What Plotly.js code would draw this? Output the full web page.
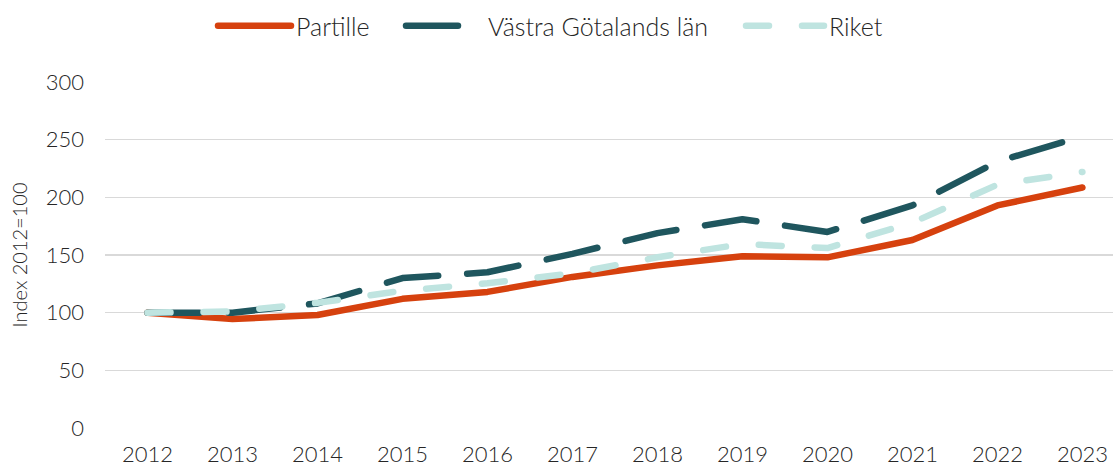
<!DOCTYPE html>
<html>
<head>
<meta charset="utf-8">
<script src="https://cdn.plot.ly/plotly-3.0.1.min.js"></script>
<style>
html, body { margin: 0; padding: 0; background: #fff; }
#chart { width: 1113px; height: 468px; }
.js-line { stroke-linecap: round; stroke-linejoin: round; }
</style>
</head>
<body>
<div id="chart"></div>
<script>
const years = ["2012","2013","2014","2015","2016","2017","2018","2019","2020","2021","2022","2023"];
const partille = [100, 94.5, 98, 112, 118, 131, 141, 149, 148, 163, 193, 208.5];
const vastraGotaland = [100, 100, 108, 130, 135, 151, 169, 181, 170, 193, 231, 253];
const riket = [100, 101, 108.5, 119, 125.5, 134, 148, 159.5, 156, 178, 211, 222];
const seriesNames = ["Partille", "Västra Götalands län", "Riket"];
const yTicks = [0, 50, 100, 150, 200, 250, 300];

const FONT = "Lato, 'Open Sans', sans-serif";
const TXT = "#262626";
const xIdx = years.map((_, i) => i);

const traces = [
  { x: xIdx, y: partille, name: seriesNames[0], type: "scatter", mode: "lines", legend: "legend",
    line: { color: "#D6410E", width: 6.5 } },
  { x: xIdx, y: vastraGotaland, name: seriesNames[1], type: "scatter", mode: "lines", legend: "legend2",
    line: { color: "#1F565E", width: 6.5, dash: "52px,29px" } },
  { x: xIdx, y: riket, name: seriesNames[2], type: "scatter", mode: "lines", legend: "legend3",
    line: { color: "#BFE4E0", width: 6.5, dash: "23px,33px" } }
];

function leg(xpx, iw) {
  return {
    orientation: "h", xref: "container", yref: "container",
    x: xpx / 1113, xanchor: "left", y: 1 - 26 / 468, yanchor: "middle",
    font: { family: FONT, size: 25, color: TXT, weight: 300 },
    itemwidth: iw, bgcolor: "rgba(0,0,0,0)"
  };
}

const layout = {
  width: 1113, height: 468,
  margin: { l: 105, r: 0, t: 82, b: 40 },
  paper_bgcolor: "#fff", plot_bgcolor: "#fff",
  font: { family: FONT, color: TXT, size: 22, weight: 300 },
  showlegend: true,
  legend: leg(213, 73),
  legend2: leg(401, 77),
  legend3: leg(741, 78),
  xaxis: {
    range: [-0.5, 11.36], tickmode: "array", tickvals: xIdx, ticktext: years,
    showgrid: false, zeroline: false, showline: false, ticks: "", ticklabelstandoff: 11,
    tickfont: { family: FONT, size: 22, color: TXT, weight: 300 }, fixedrange: true
  },
  yaxis: {
    range: [0, 300], tickmode: "array", tickvals: yTicks, ticktext: yTicks.map(String),
    showgrid: true, gridcolor: "#D9D9D9", gridwidth: 1.5, zeroline: false, showline: false,
    ticks: "", ticklabelstandoff: 20,
    tickfont: { family: FONT, size: 22, color: TXT, weight: 300 },
    title: { text: "Index 2012=100", font: { family: FONT, size: 20, color: TXT, weight: 300 }, standoff: 12 },
    automargin: false, fixedrange: true
  }
};

Plotly.newPlot("chart", traces, layout, { displayModeBar: false, staticPlot: true });
</script>
</body>
</html>
